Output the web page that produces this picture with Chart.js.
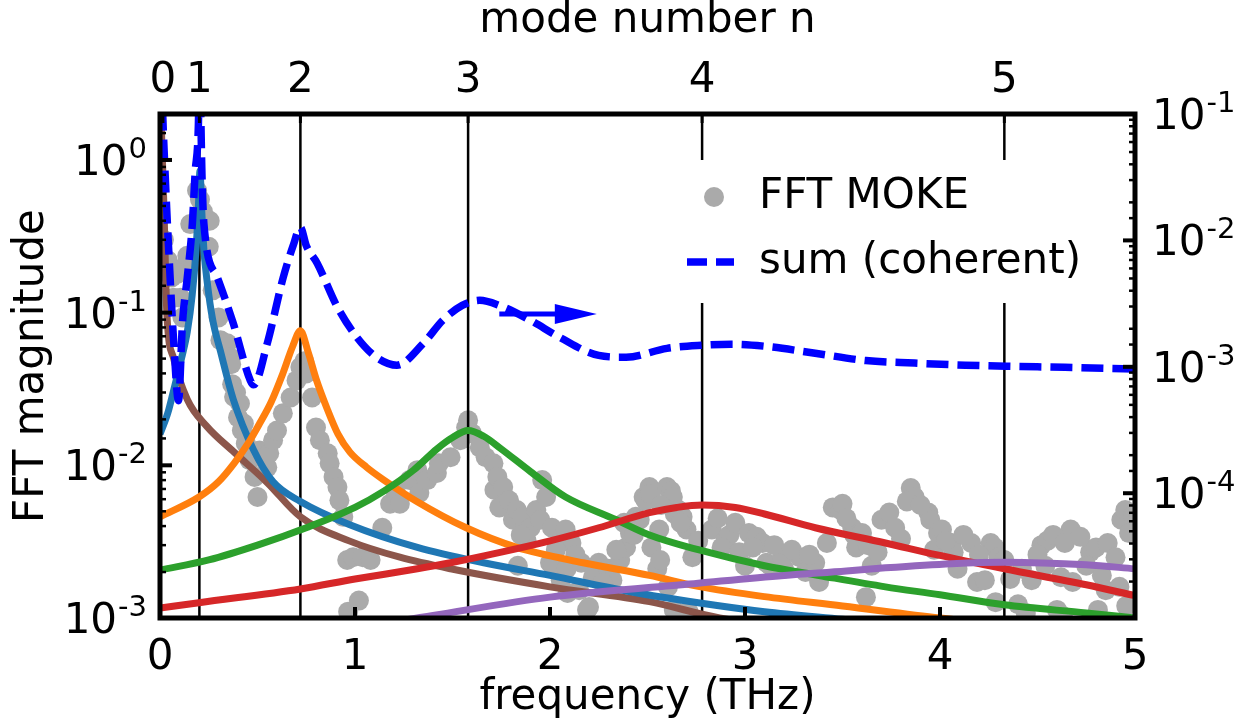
<!DOCTYPE html>
<html>
<head>
<meta charset="utf-8">
<title>FFT MOKE</title>
<script src="https://cdn.jsdelivr.net/npm/chart.js@4.4.0/dist/chart.umd.min.js"></script>
<style>
  html, body { margin: 0; padding: 0; background: #fff; }
  #wrap { width: 1251px; height: 728px; }
</style>
</head>
<body>
<div id="wrap"><canvas id="fftChart"></canvas></div>
<script>
// axis ticks
const freqTicks = [0, 1, 2, 3, 4, 5];
const modeFreq = [0.015, 0.202, 0.72, 1.58, 2.78, 4.33];   // THz, top axis
const modeLabels = ['0', '1', '2', '3', '4', '5'];
const leftDecades = [1, 0.1, 0.01, 0.001];
const rightDecades = [0.1, 0.01, 0.001, 0.0001];

// measured FFT of the MOKE signal (grey dots)
const mokeFreq = [
  0.02, 0.04, 0.06, 0.07, 0.09, 0.105, 0.115, 0.12, 0.14, 0.155, 0.17, 0.19, 0.205, 0.22, 0.25, 0.255,
  0.27, 0.30, 0.31, 0.345, 0.36, 0.365, 0.37, 0.38, 0.39, 0.40, 0.41, 0.42, 0.43, 0.44, 0.46, 0.48,
  0.485, 0.50, 0.51, 0.55, 0.56, 0.58, 0.60, 0.63, 0.67, 0.70, 0.72, 0.74, 0.75, 0.78, 0.80, 0.82,
  0.86, 0.87, 0.89, 0.91, 0.92, 0.94, 0.96, 0.965, 0.99, 1.02, 1.04, 1.08, 1.14, 1.18, 1.21, 1.23,
  1.28, 1.32, 1.33, 1.37, 1.42, 1.43, 1.49, 1.54, 1.57, 1.58, 1.60, 1.64, 1.67, 1.71, 1.715, 1.73,
  1.74, 1.76, 1.79, 1.81, 1.83, 1.835, 1.86, 1.88, 1.90, 1.93, 1.95, 1.96, 1.98, 2.00, 2.01, 2.015,
  2.05, 2.055, 2.08, 2.085, 2.09, 2.11, 2.15, 2.16, 2.19, 2.20, 2.22, 2.25, 2.30, 2.32, 2.36, 2.38,
  2.39, 2.41, 2.43, 2.44, 2.46, 2.48, 2.49, 2.51, 2.515, 2.52, 2.55, 2.56, 2.565, 2.60, 2.605, 2.62,
  2.63, 2.635, 2.66, 2.68, 2.70, 2.73, 2.76, 2.83, 2.90, 2.92, 2.95, 3.00, 3.02, 3.06, 3.09, 3.11,
  3.13, 3.19, 3.20, 3.28, 3.31, 3.36, 3.38, 3.45, 3.49, 3.50, 3.55, 3.56, 3.57, 3.60, 3.62, 3.65,
  3.70, 3.74, 3.77, 3.85, 3.87, 3.94, 3.95, 3.99, 4.01, 4.06, 4.07, 4.09, 4.16, 4.19, 4.23, 4.26,
  4.28, 4.285, 4.30, 4.40, 4.44, 4.47, 4.52, 4.54, 4.55, 4.60, 4.62, 4.63, 4.67, 4.68, 4.77, 4.80,
  4.81, 4.83, 4.85, 4.86, 4.93, 4.95, 4.955, 4.97,
  1.85, 2.03, 2.13, 2.27, 2.34, 2.57, 2.64, 2.67, 2.71, 2.86, 2.88, 2.97, 3.04, 3.15, 3.24, 3.33,
  3.42, 3.52, 3.63, 3.68, 3.80, 3.83, 3.90, 3.97, 4.03, 4.12, 4.20, 4.33, 4.36, 4.42, 4.50, 4.58,
  4.64, 4.72, 4.75, 4.90, 4.92, 4.99
];
const mokeMag = [
  0.30, 0.22, 0.17, 0.125, 0.18, 0.125, 0.093, 0.197, 0.236, 0.38, 0.24, 0.63, 0.55, 0.46, 0.27, 0.40,
  0.14, 0.093, 0.066, 0.063, 0.051, 0.046, 0.034, 0.028, 0.030, 0.0206, 0.0254, 0.0169, 0.0188, 0.0139, 0.0108, 0.0113,
  0.0084, 0.0062, 0.0125, 0.0097, 0.0120, 0.0146, 0.0169, 0.0219, 0.0278, 0.036, 0.044, 0.048, 0.040, 0.0278, 0.0177, 0.0146,
  0.0120, 0.0103, 0.0084, 0.0072, 0.0059, 0.0046, 0.0024, 0.0011, 0.0025, 0.0013, 0.0025, 0.0024, 0.0039, 0.0056, 0.0066, 0.0056,
  0.0080, 0.0093, 0.0066, 0.0080, 0.0089, 0.0103, 0.0113, 0.0146, 0.0177, 0.0197, 0.0162, 0.0131, 0.0113, 0.0103, 0.0069, 0.0084,
  0.0053, 0.0072, 0.0059, 0.0044, 0.0051, 0.0022, 0.0046, 0.0032, 0.0039, 0.0051, 0.0044, 0.0080, 0.0062, 0.0023, 0.0039, 0.0022,
  0.0031, 0.00177, 0.0038, 0.0021, 0.00146, 0.0031, 0.00152, 0.0023, 0.00113, 0.00118, 0.00185, 0.0023, 0.0021, 0.00177, 0.0024, 0.0042,
  0.0029, 0.0036, 0.0035, 0.0046, 0.0044, 0.0062, 0.0059, 0.0072, 0.0065, 0.0029, 0.0021, 0.0038, 0.0024, 0.0072, 0.0016, 0.0068,
  0.0062, 0.00113, 0.0051, 0.0046, 0.0038, 0.0025, 0.0032, 0.0038, 0.0032, 0.0035, 0.0042, 0.0022, 0.0036, 0.0034, 0.0031, 0.0023,
  0.0022, 0.0025, 0.0021, 0.0025, 0.0020, 0.0023, 0.00172, 0.0053, 0.0051, 0.0056, 0.0039, 0.0035, 0.0029, 0.0036, 0.00137, 0.0022,
  0.0044, 0.0049, 0.0039, 0.0071, 0.0062, 0.0049, 0.0044, 0.0036, 0.0038, 0.0031, 0.0027, 0.0021, 0.0031, 0.00172, 0.00177, 0.0031,
  0.0029, 0.00127, 0.0025, 0.00123, 0.00108, 0.00177, 0.0030, 0.0022, 0.0032, 0.00113, 0.00185, 0.00103, 0.0038, 0.00172, 0.0027, 0.0029,
  0.00113, 0.0019, 0.00152, 0.0031, 0.0044, 0.0051, 0.0012, 0.0036,
  0.0035, 0.0028, 0.0026, 0.0017, 0.0028, 0.0055, 0.0048, 0.0042, 0.0011, 0.0045, 0.0029, 0.0027, 0.0029, 0.0030, 0.0028, 0.0026,
  0.0031, 0.0045, 0.0030, 0.0027, 0.0033, 0.0058, 0.0055, 0.0028, 0.0032, 0.0035, 0.0026, 0.0024, 0.0018, 0.0021, 0.0026, 0.0035,
  0.0031, 0.0034, 0.0022, 0.0025, 0.0016, 0.0047
];

// single-mode fits, left axis
const n0Freq = [0, 0.02, 0.035, 0.07, 0.14, 0.24, 0.38, 0.55, 0.72, 0.97, 1.23, 1.49, 2.0, 2.51, 2.87, 3.5, 5.0];
const n0Mag  = [3, 0.5, 0.1, 0.05, 0.027, 0.018, 0.0122, 0.0077, 0.0046, 0.0032, 0.0025, 0.0021, 0.0016, 0.00128, 0.00100, 0.0008, 0.0005];

const n1Freq = [0, 0.04, 0.07, 0.11, 0.14, 0.165, 0.185, 0.197, 0.205, 0.213, 0.225, 0.243, 0.27, 0.31, 0.376, 0.48, 0.58, 0.72, 0.97, 1.32, 1.66, 2.0, 2.42, 2.76, 3.1, 3.5, 4.0, 5.0];
const n1Mag  = [0.016, 0.022, 0.031, 0.05, 0.075, 0.13, 0.26, 0.5, 0.85, 0.5, 0.26, 0.155, 0.09, 0.056, 0.027, 0.0126, 0.0078, 0.0058, 0.0041, 0.0029, 0.0023, 0.0019, 0.00148, 0.00126, 0.0011, 0.00098, 0.00085, 0.00065];

const n2Freq = [0, 0.2, 0.3, 0.38, 0.45, 0.51, 0.57, 0.63, 0.68, 0.72, 0.76, 0.8, 0.857, 0.913, 0.974, 1.06, 1.143, 1.317, 1.57, 1.83, 2.17, 2.51, 2.76, 3.1, 3.5, 4.0, 5.0];
const n2Mag  = [0.0046, 0.0062, 0.0078, 0.0103, 0.0138, 0.0187, 0.026, 0.040, 0.060, 0.076, 0.055, 0.037, 0.0235, 0.016, 0.0122, 0.0097, 0.0081, 0.0058, 0.0039, 0.0029, 0.0023, 0.0019, 0.00161, 0.00138, 0.0012, 0.001, 0.00075];

const n3Freq = [0, 0.25, 0.5, 0.75, 1.0, 1.15, 1.3, 1.42, 1.5, 1.58, 1.66, 1.75, 1.9, 2.08, 2.34, 2.51, 2.76, 3.1, 3.38, 3.72, 4.0, 4.33, 4.75, 5.0];
const n3Mag  = [0.00206, 0.0024, 0.0030, 0.0039, 0.0053, 0.0068, 0.0093, 0.0128, 0.0152, 0.0169, 0.0155, 0.0128, 0.0091, 0.0062, 0.0044, 0.0035, 0.0028, 0.0022, 0.0019, 0.0016, 0.00142, 0.00122, 0.00108, 0.001];

const n4Freq = [0, 0.2, 0.72, 1.0, 1.32, 1.49, 1.75, 2.0, 2.25, 2.51, 2.65, 2.78, 2.95, 3.1, 3.36, 3.72, 3.98, 4.33, 4.75, 5.0];
const n4Mag  = [0.00116, 0.00126, 0.00155, 0.0018, 0.0021, 0.0023, 0.0027, 0.0032, 0.0039, 0.0049, 0.0053, 0.0055, 0.0053, 0.0048, 0.0039, 0.0031, 0.0026, 0.0021, 0.00165, 0.0014];

const n5Freq = [0, 0.5, 1.0, 1.4, 2.0, 2.76, 3.2, 3.52, 3.72, 4.06, 4.33, 4.75, 5.0];
const n5Mag  = [0.00058, 0.0007, 0.00086, 0.00104, 0.00137, 0.00169, 0.0019, 0.00203, 0.00213, 0.00227, 0.00232, 0.00223, 0.0021];

// coherent sum, right axis
const sumFreq = [0, 0.01, 0.03, 0.05, 0.07, 0.095, 0.115, 0.14, 0.166, 0.18, 0.197, 0.203, 0.21, 0.215, 0.225, 0.294, 0.376, 0.463, 0.48,
  0.55, 0.632, 0.683, 0.72, 0.75, 0.806, 0.908, 1.01, 1.11, 1.215, 1.35, 1.45, 1.55, 1.64, 1.74, 1.9, 2.05, 2.25, 2.39, 2.6,
  2.78, 2.93, 3.11, 3.36, 3.62, 3.87, 4.13, 4.34, 4.64, 5.0];
const sumMag = [0.6, 0.15, 0.025, 0.0058, 0.0016, 0.00054, 0.0022, 0.0051, 0.0136, 0.034, 0.084, 0.3, 0.084, 0.034, 0.0136, 0.0051, 0.0022, 0.00078, 0.00072,
  0.00153, 0.0051, 0.0091, 0.0127, 0.0091, 0.0066, 0.0030, 0.00171, 0.00119, 0.00103, 0.00153, 0.00233, 0.00306, 0.00336, 0.00306, 0.00233, 0.00171, 0.00123, 0.00119, 0.0014,
  0.00148, 0.00151, 0.00145, 0.00128, 0.00112, 0.00107, 0.00103, 0.00101, 0.00099, 0.00096];

// arrow pointing at the right axis (frequency range, left-axis height)
const arrowFreq = [1.74, 2.24];
const arrowMag = 0.098;

const FONT = '"DejaVu Sans"';

function isDecade(v) {
    const e = Math.log10(v);
    return Math.abs(e - Math.round(e)) < 1e-6;
}

function toPoints(xs, ys) {
    return xs.map((x, i) => ({ x: x, y: ys[i] }));
}

function fitLine(label, xs, ys, color, order) {
    return {
        label: label,
        data: toPoints(xs, ys),
        showLine: true,
        borderColor: color,
        borderWidth: 7,
        pointRadius: 0,
        cubicInterpolationMode: 'monotone',
        xAxisID: 'x',
        yAxisID: 'y',
        clip: 0,
        order: order
    };
}

function drawTick(ctx, x1, y1, x2, y2, w) {
    ctx.lineWidth = w;
    ctx.beginPath();
    ctx.moveTo(x1, y1);
    ctx.lineTo(x2, y2);
    ctx.stroke();
}

// "10" with a raised exponent, the way matplotlib writes log ticks
function drawPower(ctx, v, x, y, align) {
    const exp = String(Math.round(Math.log10(v)));
    ctx.font = '42px ' + FONT;
    const wBase = ctx.measureText('10').width;
    ctx.font = '29px ' + FONT;
    const wExp = ctx.measureText(exp).width;
    const x0 = align === 'right' ? x - wBase - wExp - 1 : x;
    const base = y + 15;
    ctx.textAlign = 'left';
    ctx.textBaseline = 'alphabetic';
    ctx.font = '42px ' + FONT;
    ctx.fillText('10', x0, base);
    ctx.font = '29px ' + FONT;
    ctx.fillText(exp, x0 + wBase + 1, base - 17);
}

// inward ticks, the black frame and the log tick labels
const axesFrame = {
    id: 'axesFrame',
    afterDatasetsDraw(chart) {
        const { ctx, chartArea: a, scales } = chart;
        ctx.save();
        ctx.strokeStyle = '#000';
        ctx.lineCap = 'butt';
        freqTicks.forEach(v => {
            const x = scales.x.getPixelForValue(v);
            drawTick(ctx, x, a.bottom, x, a.bottom - 11, 4);
        });
        modeFreq.forEach(v => {
            const x = scales.x2.getPixelForValue(v);
            drawTick(ctx, x, a.top, x, a.top + 9, 3);
        });
        scales.y.ticks.forEach(t => {
            const y = scales.y.getPixelForValue(t.value);
            const major = isDecade(t.value);
            drawTick(ctx, a.left, y, a.left + (major ? 12 : 6), y, major ? 4 : 2.5);
        });
        scales.y2.ticks.forEach(t => {
            const y = scales.y2.getPixelForValue(t.value);
            const major = isDecade(t.value);
            drawTick(ctx, a.right, y, a.right - (major ? 12 : 6), y, major ? 4 : 2.5);
        });
        ctx.lineWidth = 5;
        ctx.strokeRect(a.left, a.top, a.right - a.left, a.bottom - a.top);

        ctx.fillStyle = '#000';
        leftDecades.forEach(v => drawPower(ctx, v, a.left - 13, scales.y.getPixelForValue(v), 'right'));
        rightDecades.forEach(v => drawPower(ctx, v, a.right + 17, scales.y2.getPixelForValue(v), 'left'));
        ctx.restore();
    }
};

// legend inside the plot with a white box, plus the arrow towards the right axis
const insetLegend = {
    id: 'insetLegend',
    afterDatasetsDraw(chart) {
        const { ctx, chartArea: a, scales } = chart;
        ctx.save();

        const y = scales.y.getPixelForValue(arrowMag);
        const x0 = scales.x.getPixelForValue(arrowFreq[0]);
        const x1 = scales.x.getPixelForValue(arrowFreq[1]);
        ctx.strokeStyle = '#0000ff';
        ctx.fillStyle = '#0000ff';
        ctx.lineWidth = 5;
        ctx.beginPath();
        ctx.moveTo(x0, y);
        ctx.lineTo(x1 - 38, y);
        ctx.stroke();
        ctx.beginPath();
        ctx.moveTo(x1, y);
        ctx.lineTo(x1 - 42, y - 10);
        ctx.lineTo(x1 - 42, y + 10);
        ctx.closePath();
        ctx.fill();

        const lx = a.left + 510, ly = a.top + 46;
        ctx.fillStyle = '#fff';
        ctx.fillRect(lx, ly, 435, 143);

        ctx.fillStyle = '#aaaaaa';
        ctx.beginPath();
        ctx.arc(lx + 44, ly + 37, 10, 0, Math.PI * 2);
        ctx.fill();

        ctx.strokeStyle = '#0000ff';
        ctx.lineWidth = 7.5;
        ctx.setLineDash([20, 9]);
        ctx.beginPath();
        ctx.moveTo(lx + 17, ly + 102);
        ctx.lineTo(lx + 64, ly + 102);
        ctx.stroke();
        ctx.setLineDash([]);

        ctx.fillStyle = '#000';
        ctx.font = '42px ' + FONT;
        ctx.textAlign = 'left';
        ctx.textBaseline = 'middle';
        ctx.fillText('FFT MOKE', lx + 89, ly + 37);
        ctx.fillText('sum (coherent)', lx + 89, ly + 102);
        ctx.restore();
    }
};

const datasets = [
    {
        label: 'sum (coherent)',
        data: toPoints(sumFreq, sumMag),
        showLine: true,
        borderColor: '#0000ff',
        borderWidth: 7.5,
        borderDash: [22, 9],
        pointRadius: 0,
        cubicInterpolationMode: 'monotone',
        xAxisID: 'x',
        yAxisID: 'y2',
        clip: 0,
        order: 0
    },
    fitLine('n=5', n5Freq, n5Mag, '#9467bd', 1),
    fitLine('n=4', n4Freq, n4Mag, '#d62728', 2),
    fitLine('n=3', n3Freq, n3Mag, '#2ca02c', 3),
    fitLine('n=2', n2Freq, n2Mag, '#ff7f0e', 4),
    fitLine('n=1', n1Freq, n1Mag, '#1f77b4', 5),
    fitLine('n=0', n0Freq, n0Mag, '#8c564b', 6)
];

// vertical markers at the mode frequencies n = 1..5
modeFreq.slice(1).forEach(f => {
    datasets.push({
        label: 'mode',
        data: [{ x: f, y: 0.001 }, { x: f, y: 2 }],
        showLine: true,
        borderColor: '#000',
        borderWidth: 2.5,
        pointRadius: 0,
        xAxisID: 'x',
        yAxisID: 'y',
        clip: 0,
        order: 7
    });
});

datasets.push({
    label: 'FFT MOKE',
    data: toPoints(mokeFreq, mokeMag),
    backgroundColor: '#aaaaaa',
    borderWidth: 0,
    pointRadius: 10,
    xAxisID: 'x',
    yAxisID: 'y',
    clip: 0,
    order: 8
});

Chart.defaults.font.family = 'DejaVu Sans';
Chart.defaults.font.size = 42;
Chart.defaults.color = '#000';

const ctx = document.getElementById('fftChart').getContext('2d');
new Chart(ctx, {
    type: 'scatter',
    data: { datasets: datasets },
    options: {
        responsive: true,
        maintainAspectRatio: false,
        animation: false,
        events: [],
        layout: { padding: 0 },
        plugins: { legend: { display: false }, tooltip: { enabled: false } },
        scales: {
            x: {
                type: 'linear',
                position: 'bottom',
                min: 0,
                max: 5,
                afterBuildTicks: s => { s.ticks = freqTicks.map(v => ({ value: v })); },
                afterFit: s => { s.height = 110; },
                grid: { display: false },
                border: { display: false },
                ticks: { padding: 7, autoSkip: false, maxRotation: 0, callback: v => String(v) },
                title: { display: true, text: 'frequency (THz)', font: { size: 42, lineHeight: 1 }, padding: { top: 0, bottom: 9 } }
            },
            x2: {
                type: 'linear',
                position: 'top',
                min: 0,
                max: 5,
                afterBuildTicks: s => { s.ticks = modeFreq.map(v => ({ value: v })); },
                afterFit: s => { s.height = 114; },
                grid: { display: false },
                border: { display: false },
                ticks: { padding: 0, autoSkip: false, maxRotation: 0, callback: v => modeLabels[modeFreq.indexOf(v)] },
                title: { display: true, text: 'mode number n', font: { size: 42, lineHeight: 1 }, padding: { top: 0, bottom: 0 } }
            },
            y: {
                type: 'logarithmic',
                position: 'left',
                min: 0.001,
                max: 2,
                afterFit: s => { s.width = 160; },
                grid: { display: false },
                border: { display: false },
                ticks: { autoSkip: false, callback: () => '' },
                title: { display: true, text: 'FFT magnitude', font: { size: 42, lineHeight: 1 }, padding: { top: 11, bottom: 0 } }
            },
            y2: {
                type: 'logarithmic',
                position: 'right',
                min: 0.0000103,
                max: 0.1,
                afterFit: s => { s.width = 116; },
                grid: { display: false },
                border: { display: false },
                ticks: { autoSkip: false, callback: () => '' }
            }
        }
    },
    plugins: [axesFrame, insetLegend]
});
</script>
</body>
</html>
